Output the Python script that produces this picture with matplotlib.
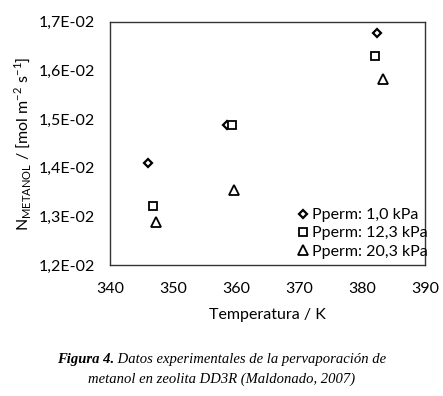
import matplotlib
matplotlib.use("Agg")
from matplotlib import pyplot as plt
from matplotlib.ticker import FuncFormatter

# data
temp_10 = [346.0, 358.6, 382.4]
flux_10 = [0.01410, 0.01488, 0.01676]
temp_123 = [346.8, 359.4, 382.1]
flux_123 = [0.01322, 0.01488, 0.01630]
temp_203 = [347.3, 359.7, 383.3]
flux_203 = [0.01288, 0.01355, 0.01582]
labels = ["Pperm: 1,0 kPa", "Pperm: 12,3 kPa", "Pperm: 20,3 kPa"]

plt.rcParams['font.family'] = ['Lato', 'DejaVu Sans']

fig = plt.figure(figsize=(4.43, 3.96), dpi=100)
ax = fig.add_axes([0.248, 0.331, 0.711, 0.614])

ax.plot(temp_10, flux_10, 'D', ms=4.5, mfc='white', mec='black', mew=1.6, ls='none', label=labels[0])
ax.plot(temp_123, flux_123, 's', ms=6, mfc='white', mec='black', mew=1.3, ls='none', label=labels[1])
ax.plot(temp_203, flux_203, '^', ms=6.5, mfc='white', mec='black', mew=1.3, ls='none', label=labels[2])

ax.set_xlim(340, 390)
ax.set_ylim(0.012, 0.017)
ax.set_xticks([340, 350, 360, 370, 380, 390])
ax.set_yticks([0.012, 0.013, 0.014, 0.015, 0.016, 0.017])
ax.yaxis.set_major_formatter(FuncFormatter(lambda v, p: ('%.1E' % v).replace('.', ',')))
ax.tick_params(length=0, labelsize=11.5)
ax.tick_params(axis='y', pad=11)
ax.tick_params(axis='x', pad=12)
for s in ax.spines.values():
    s.set_color('#333333')
    s.set_linewidth(1.0)

ax.set_xlabel("Temperatura / K", fontsize=11.5, labelpad=9)
ax.set_ylabel(r"N$_{\mathregular{METANOL}}$ / [mol m$^{\mathregular{-2}}$ s$^{\mathregular{-1}}$]", fontsize=11.5, labelpad=4)

leg = ax.legend(loc='lower right', frameon=False, fontsize=11.5, handletextpad=0.05,
                handlelength=1.0, borderaxespad=0.0, labelspacing=0.25,
                bbox_to_anchor=(1.03, 0.0))
leg.set_clip_on(False)

# caption: bold-italic "Figura 4." followed by italic text, centred as one line
fig.canvas.draw()
r = fig.canvas.get_renderer()
t1 = fig.text(0, 0.083, "Figura 4.", fontsize=10.5, style='italic', weight='bold',
              family='Liberation Serif')
t2 = fig.text(0, 0.083, " Datos experimentales de la pervaporación de", fontsize=10.5,
              style='italic', family='Liberation Serif')
w1 = t1.get_window_extent(r).width / fig.bbox.width
w2 = t2.get_window_extent(r).width / fig.bbox.width
x0 = 0.5 - (w1 + w2) / 2
t1.set_x(x0)
t2.set_x(x0 + w1)
fig.text(0.5, 0.033, "metanol en zeolita DD3R (Maldonado, 2007)",
         ha='center', fontsize=10.5, style='italic', family='Liberation Serif')

plt.savefig('out.png', dpi=100)
